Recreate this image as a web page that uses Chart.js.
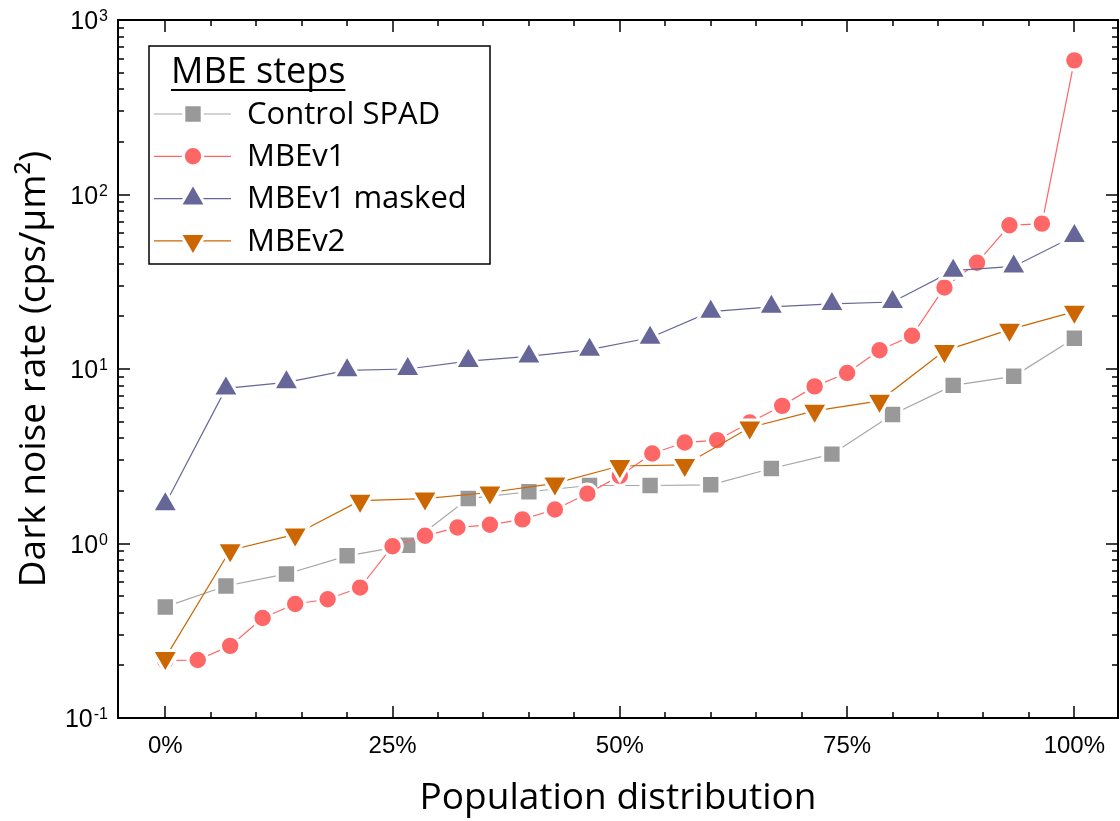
<!DOCTYPE html>
<html>
<head>
<meta charset="utf-8">
<title>Dark noise rate vs population distribution</title>
<script src="https://cdn.jsdelivr.net/npm/chart.js@4.4.1/dist/chart.umd.min.js"></script>
<style>
  html, body { margin: 0; padding: 0; background: #fff; }
  canvas { display: block; }
</style>
</head>
<body>
<canvas id="chart" width="1120" height="821"></canvas>
<script>
// Population position (%) of every device, per series
const xControl = [0, 6.67, 13.33, 20, 26.67, 33.33, 40, 46.67, 53.33, 60, 66.67, 73.33, 80, 86.67, 93.33, 100];
const xMbev1 = [0, 3.57, 7.14, 10.71, 14.29, 17.86, 21.43, 25, 28.57, 32.14, 35.71, 39.29, 42.86, 46.43, 50,
                53.57, 57.14, 60.71, 64.29, 67.86, 71.43, 75, 78.57, 82.14, 85.71, 89.29, 92.86, 96.43, 100];
const xMasked = [0, 6.67, 13.33, 20, 26.67, 33.33, 40, 46.67, 53.33, 60, 66.67, 73.33, 80, 86.67, 93.33, 100];
const xMbev2 = [0, 7.14, 14.29, 21.43, 28.57, 35.71, 42.86, 50, 57.14, 64.29, 71.43, 78.57, 85.71, 92.86, 100];

// Dark noise rate (cps/um^2)
const yControl = [0.433, 0.571, 0.669, 0.85, 0.978, 1.81, 1.98, 2.15, 2.15, 2.17, 2.69, 3.25, 5.49, 8.06, 9.08, 15.0];
const yMbev1 = [0.213, 0.215, 0.259, 0.374, 0.45, 0.479, 0.559, 0.965, 1.107, 1.236, 1.28, 1.374, 1.567, 1.93, 2.44,
                3.28, 3.79, 3.91, 4.94, 6.15, 7.95, 9.48, 12.8, 15.5, 29.3, 40.6, 66.6, 68.1, 587];
const yMasked = [1.68, 7.74, 8.39, 9.83, 10.0, 11.1, 11.8, 12.9, 15.1, 21.3, 22.7, 23.6, 24.2, 36.6, 38.7, 57.9];
const yMbev2 = [0.221, 0.915, 1.127, 1.76, 1.81, 1.96, 2.21, 2.78, 2.82, 4.62, 5.76, 6.57, 12.7, 16.8, 21.3];

const seriesNames = ['Control SPAD', 'MBEv1', 'MBEv1 masked', 'MBEv2'];
const xTickValues = [0, 25, 50, 75, 100];
const xTickLabels = ['0%', '25%', '50%', '75%', '100%'];
const yTickExponents = [-1, 0, 1, 2, 3];

function toPoints(xs, ys) {
    return xs.map((x, i) => ({ x: x, y: ys[i] }));
}

function makeSeries(label, xs, ys, color, lineColor, style, radius, rotation, order) {
    return {
        label: label,
        data: toPoints(xs, ys),
        borderColor: lineColor,
        borderWidth: 1.2,
        backgroundColor: color,
        pointStyle: style,
        pointRadius: radius,
        pointRotation: rotation,
        pointBackgroundColor: color,
        pointBorderColor: '#ffffff',
        pointBorderWidth: 3,
        tension: 0,
        order: order
    };
}

// Frame, inward ticks, tick labels and the boxed legend
const framePlugin = {
    id: 'frame',
    afterDraw(chart) {
        const ctx = chart.ctx;
        const a = chart.chartArea;
        const xs = chart.scales.x;
        const ys = chart.scales.y;

        function seg(x1, y1, x2, y2) {
            ctx.beginPath();
            ctx.moveTo(x1, y1);
            ctx.lineTo(x2, y2);
            ctx.stroke();
        }

        ctx.save();
        ctx.strokeStyle = '#000';
        ctx.lineWidth = 1.5;

        // x ticks, minor every 5%
        for (let v = 0; v <= 100; v += 5) {
            const px = Math.round(xs.getPixelForValue(v));
            const len = xTickValues.includes(v) ? 12 : 6;
            seg(px, a.bottom, px, a.bottom - len);
            seg(px, a.top, px, a.top + len);
        }

        // y ticks, minor at 2..9 of each decade
        const lastExp = yTickExponents[yTickExponents.length - 1];
        for (let e = yTickExponents[0]; e <= lastExp; e++) {
            for (let m = 1; m < 10; m++) {
                if (e === lastExp && m > 1) break;
                const py = Math.round(ys.getPixelForValue(m * Math.pow(10, e)));
                const len = m === 1 ? 12 : 6;
                seg(a.left, py, a.left + len, py);
                seg(a.right, py, a.right - len, py);
            }
        }

        ctx.lineWidth = 2;
        ctx.strokeRect(a.left, a.top, a.right - a.left, a.bottom - a.top);

        // x tick labels
        ctx.fillStyle = '#000';
        ctx.font = '24px "Liberation Sans", Arial, sans-serif';
        ctx.textAlign = 'center';
        ctx.textBaseline = 'alphabetic';
        xTickValues.forEach((v, i) => {
            ctx.fillText(xTickLabels[i], xs.getPixelForValue(v), a.bottom + 35);
        });

        // y tick labels: 10 with a raised exponent
        yTickExponents.forEach(e => {
            const py = ys.getPixelForValue(Math.pow(10, e));
            const sup = String(e);
            ctx.font = '16px "Liberation Sans", Arial, sans-serif';
            ctx.textAlign = 'right';
            const supW = ctx.measureText(sup).width;
            ctx.fillText(sup, a.left - 10, py + 1);
            ctx.font = '25px "Liberation Sans", Arial, sans-serif';
            ctx.fillText('10', a.left - 11 - supW, py + 9);
        });

        // legend box
        const bx = 149, by = 46, bw = 341, bh = 218;
        ctx.fillStyle = '#fff';
        ctx.fillRect(bx, by, bw, bh);
        ctx.lineWidth = 1.5;
        ctx.strokeStyle = '#000';
        ctx.strokeRect(bx, by, bw, bh);

        ctx.fillStyle = '#000';
        ctx.textAlign = 'left';
        ctx.textBaseline = 'alphabetic';
        ctx.font = '36px "Open Sans", sans-serif';
        const title = 'MBE steps';
        ctx.fillText(title, 171, 83);
        const tw = ctx.measureText(title).width;
        ctx.lineWidth = 2;
        seg(171, 90, 171 + tw, 90);

        [0, 1, 2, 3].forEach((di, row) => {
            const ds = chart.data.datasets[di];
            const ry = 114 + row * 42.3;
            ctx.strokeStyle = ds.borderColor;
            ctx.lineWidth = 1.2;
            seg(154, ry, 231, ry);
            ctx.fillStyle = ds.pointBackgroundColor;
            ctx.strokeStyle = '#fff';
            ctx.lineWidth = 3;
            Chart.helpers.drawPoint(ctx, {
                pointStyle: ds.pointStyle,
                radius: ds.pointRadius,
                rotation: ds.pointRotation,
                borderWidth: 3
            }, 193, ry);
            ctx.fillStyle = '#000';
            ctx.font = '31px "Open Sans", sans-serif';
            ctx.textBaseline = 'middle';
            ctx.fillText(seriesNames[di], 247, ry + 1);
            ctx.textBaseline = 'alphabetic';
        });

        ctx.restore();
    }
};

const chart = new Chart(document.getElementById('chart'), {
    type: 'line',
    data: {
        datasets: [
            makeSeries(seriesNames[0], xControl, yControl, '#999999', '#a6a6a6', 'rect', 13, 0, 3),
            makeSeries(seriesNames[1], xMbev1, yMbev1, '#ff6666', '#ff6666', 'circle', 9.7, 0, 2),
            makeSeries(seriesNames[2], xMasked, yMasked, '#666699', '#666699', 'triangle', 15, 0, 1),
            makeSeries(seriesNames[3], xMbev2, yMbev2, '#cc6600', '#cc6600', 'triangle', 15, 180, 0)
        ]
    },
    options: {
        responsive: false,
        animation: false,
        devicePixelRatio: 1,
        layout: { autoPadding: false, padding: { top: 20, right: 2, left: 0, bottom: 0 } },
        plugins: {
            legend: { display: false },
            tooltip: { enabled: false }
        },
        scales: {
            x: {
                type: 'linear',
                min: -5.2,
                max: 104.8,
                grid: { display: false, drawTicks: false },
                border: { display: false },
                ticks: { display: false },
                title: {
                    display: true,
                    text: 'Population distribution',
                    color: '#000',
                    font: { family: '"Open Sans", sans-serif', size: 37 },
                    padding: { top: 0, bottom: 0 }
                },
                afterFit: scale => { scale.height = 103; }
            },
            y: {
                type: 'logarithmic',
                min: 0.1,
                max: 1000,
                grid: { display: false, drawTicks: false },
                border: { display: false },
                ticks: { display: false },
                title: {
                    display: true,
                    text: 'Dark noise rate (cps/μm²)',
                    color: '#000',
                    font: { family: '"Open Sans", sans-serif', size: 37 },
                    padding: { top: 12, bottom: 0 }
                },
                afterFit: scale => { scale.width = 118; }
            }
        }
    },
    plugins: [framePlugin]
});
</script>
</body>
</html>
